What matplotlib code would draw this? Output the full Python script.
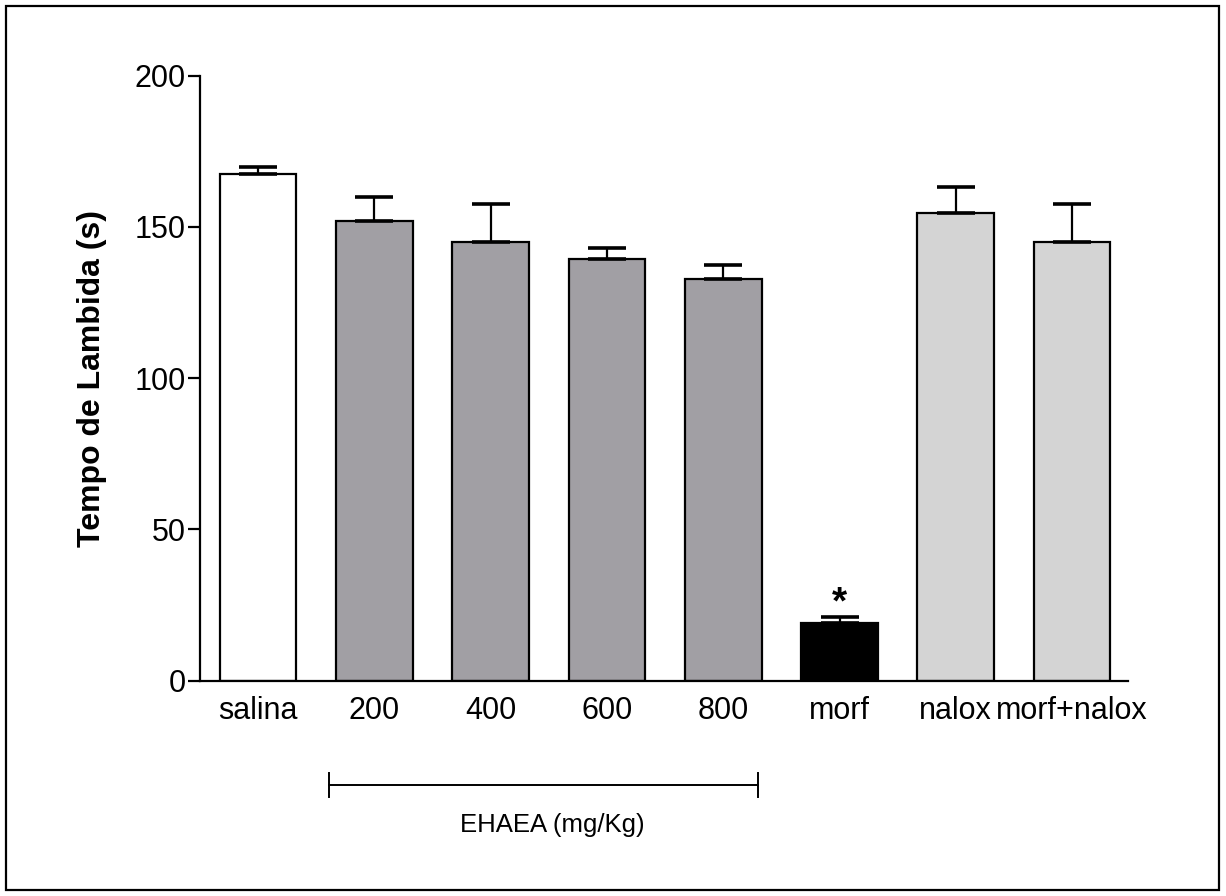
import matplotlib
matplotlib.use("Agg")
import matplotlib.pyplot as plt
import matplotlib.transforms as mtransforms
from matplotlib.patches import Rectangle

plt.rcParams["font.family"] = ["Liberation Sans", "DejaVu Sans"]

# data
groups = ["salina", "200", "400", "600", "800", "morf", "nalox", "morf+nalox"]
means = [167.4, 151.9, 145.0, 139.5, 132.7, 19.0, 154.6, 145.0]
sems = [2.4, 8.1, 12.5, 3.6, 4.6, 2.0, 8.7, 12.5]
colors = ["#FFFFFF", "#A19FA4", "#A19FA4", "#A19FA4", "#A19FA4",
          "#000000", "#D4D4D4", "#D4D4D4"]
yticks = [0, 50, 100, 150, 200]
signif = [5]  # index of bars marked with *

fig = plt.figure(figsize=(12.26, 8.96), dpi=100)
ax = fig.add_axes([0.1631, 0.2403, 0.7569, 0.6752])

x = list(range(len(groups)))
ax.bar(x, means, width=0.66, color=colors, edgecolor="black",
       linewidth=1.6, zorder=2)
ax.errorbar(x, means, yerr=[[0] * len(sems), sems], fmt="none",
            ecolor="black", elinewidth=1.6, capsize=14, capthick=2.6,
            zorder=3)

for i in signif:
    ax.text(x[i], means[i] + sems[i] + 4.5, "*", ha="center", va="center",
            fontsize=28, fontweight="bold")

ax.set_xlim(-0.5, 7.48)
ax.set_ylim(0, 200)
ax.set_yticks(yticks)
ax.set_xticks(x)
ax.set_xticklabels(groups)
ax.tick_params(axis="y", direction="out", length=9, width=1.6,
               labelsize=22, pad=1)
ax.tick_params(axis="x", length=0, labelsize=22, pad=11)
ax.set_ylabel("Tempo de Lambida (s)", fontsize=23, fontweight="bold",
              labelpad=20)

for side in ["top", "right"]:
    ax.spines[side].set_visible(False)
for side in ["left", "bottom"]:
    ax.spines[side].set_linewidth(1.6)

# bracket under the EHAEA doses
trans = mtransforms.blended_transform_factory(ax.transData, ax.transAxes)
x0, x1 = 0.607, 4.30
yb = -0.172
ax.plot([x0, x1], [yb, yb], color="black", lw=1.4, transform=trans,
        clip_on=False)
for xe in (x0, x1):
    ax.plot([xe, xe], [yb - 0.02, yb + 0.02], color="black", lw=1.4,
            transform=trans, clip_on=False)
ax.text(2.53, -0.238, "EHAEA (mg/Kg)", transform=trans,
        ha="center", va="center", fontsize=18.5)

# frame around the whole figure
fig.patches.append(Rectangle((6 / 1226, 6 / 896), 1213 / 1226, 884 / 896,
                             transform=fig.transFigure, fill=False,
                             edgecolor="black", linewidth=1.6))

fig.savefig("out.png", dpi=100, facecolor="white")
